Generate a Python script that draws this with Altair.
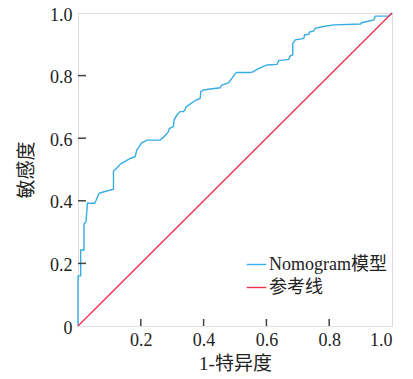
import altair as alt
import pandas as pd

roc_fpr = [0, 0, 0, 0.0085, 0.0085, 0.019, 0.019, 0.0255, 0.03, 0.053, 0.057, 0.067, 0.083, 0.113,
           0.113, 0.123, 0.136, 0.15, 0.168, 0.182, 0.187, 0.195, 0.203, 0.212, 0.219, 0.262, 0.274,
           0.288, 0.291, 0.304, 0.306, 0.315, 0.325, 0.335, 0.341, 0.344, 0.357, 0.376, 0.389, 0.391,
           0.40, 0.421, 0.453, 0.458, 0.479, 0.49, 0.501, 0.506, 0.549, 0.559, 0.57, 0.586, 0.602,
           0.634, 0.639, 0.671, 0.676, 0.684, 0.684, 0.692, 0.719, 0.722, 0.735, 0.738, 0.75, 0.756,
           0.777, 0.814, 0.9, 0.903, 0.942, 0.947, 0.99, 1.0]
roc_tpr = [0, 0.147, 0.16, 0.16, 0.243, 0.243, 0.326, 0.333, 0.392, 0.392, 0.40, 0.424, 0.429, 0.437,
           0.494, 0.504, 0.518, 0.526, 0.536, 0.541, 0.562, 0.573, 0.586, 0.589, 0.594, 0.594, 0.605,
           0.621, 0.631, 0.637, 0.658, 0.674, 0.685, 0.685, 0.69, 0.70, 0.709, 0.722, 0.727, 0.749,
           0.754, 0.757, 0.761, 0.77, 0.777, 0.791, 0.807, 0.81, 0.81, 0.8125, 0.82, 0.827, 0.834,
           0.836, 0.848, 0.852, 0.863, 0.866, 0.903, 0.914, 0.919, 0.93, 0.932, 0.94, 0.942, 0.951,
           0.956, 0.962, 0.965, 0.969, 0.978, 0.99, 0.99, 1.0]
ref_x = [0, 1]
ref_y = [0, 1]
series_names = ["Nomogram模型", "参考线"]
series_colors = ["#36ade3", "#ec3450"]
x_ticks = [0.2, 0.4, 0.6, 0.8]
y_ticks = [0.2, 0.4, 0.6, 0.8]
axis_ticks = [0, 0.2, 0.4, 0.6, 0.8, 1.0]

rows = []
for i, (a, b) in enumerate(zip(roc_fpr, roc_tpr)):
    rows.append({"x": a, "y": b, "s": series_names[0], "o": i})
for i, (a, b) in enumerate(zip(ref_x, ref_y)):
    rows.append({"x": a, "y": b, "s": series_names[1], "o": i})
df = pd.DataFrame(rows)

LAT = "'Times New Roman', 'Liberation Serif', 'DejaVu Serif', serif"
MIX = "'Times New Roman', 'Liberation Serif', 'Noto Sans CJK SC', serif"
CJK = "'Noto Sans CJK SC', sans-serif"

xscale = alt.Scale(domain=[0, 1], nice=False)
yscale = alt.Scale(domain=[0, 1], nice=False)

lines = alt.Chart(df).mark_line(strokeWidth=1.4).encode(
    x=alt.X("x:Q", scale=xscale, axis=alt.Axis(
        title="1-特异度", values=[0.2, 0.4, 0.6, 0.8, 1.0], format=".1f",
        ticks=False, domain=False, grid=False, labelFont=LAT, labelFontSize=18,
        labelColor="#222", labelPadding=5, titleFont=MIX,
        titleFontSize=19, titleFontWeight="normal", titleColor="#222", titlePadding=5)),
    y=alt.Y("y:Q", scale=yscale, axis=alt.Axis(
        title="敏感度", values=axis_ticks,
        labelExpr="datum.value == 0 ? '0' : format(datum.value, '.1f')",
        ticks=False, domain=False, grid=False, labelFont=LAT, labelFontSize=18,
        labelColor="#222", labelPadding=6, labelOffset=2, titleFont=CJK, titleFontSize=19,
        titleFontWeight="normal", titleColor="#222", titlePadding=13)),
    color=alt.Color("s:N", scale=alt.Scale(domain=series_names, range=series_colors),
                    sort=series_names,
                    legend=alt.Legend(title=None, orient="none", legendX=168, legendY=241,
                                      symbolType="stroke", symbolSize=380, symbolStrokeWidth=1.4,
                                      labelFont=MIX, labelFontSize=18, labelColor="#222",
                                      labelOffset=2, rowPadding=3, labelLimit=300)),
    order="o:Q",
)

xt = alt.Chart(pd.DataFrame({"t": x_ticks})).mark_rule(color="#444", strokeWidth=1.5).encode(
    x=alt.X("t:Q", scale=xscale), y=alt.value(313), y2=alt.value(306))
yt = alt.Chart(pd.DataFrame({"t": y_ticks})).mark_rule(color="#444", strokeWidth=1.5).encode(
    y=alt.Y("t:Q", scale=yscale), x=alt.value(0), x2=alt.value(8))

chart = alt.layer(lines, xt, yt).properties(
    width=314, height=313,
    autosize=alt.AutoSizeParams(type="none"),
    padding={"left": 70, "top": 5, "right": 13, "bottom": 52},
).configure_view(stroke="#555", strokeWidth=2).configure(background="white")

chart.save("out.html", embed_options={"renderer": "svg", "actions": False})
